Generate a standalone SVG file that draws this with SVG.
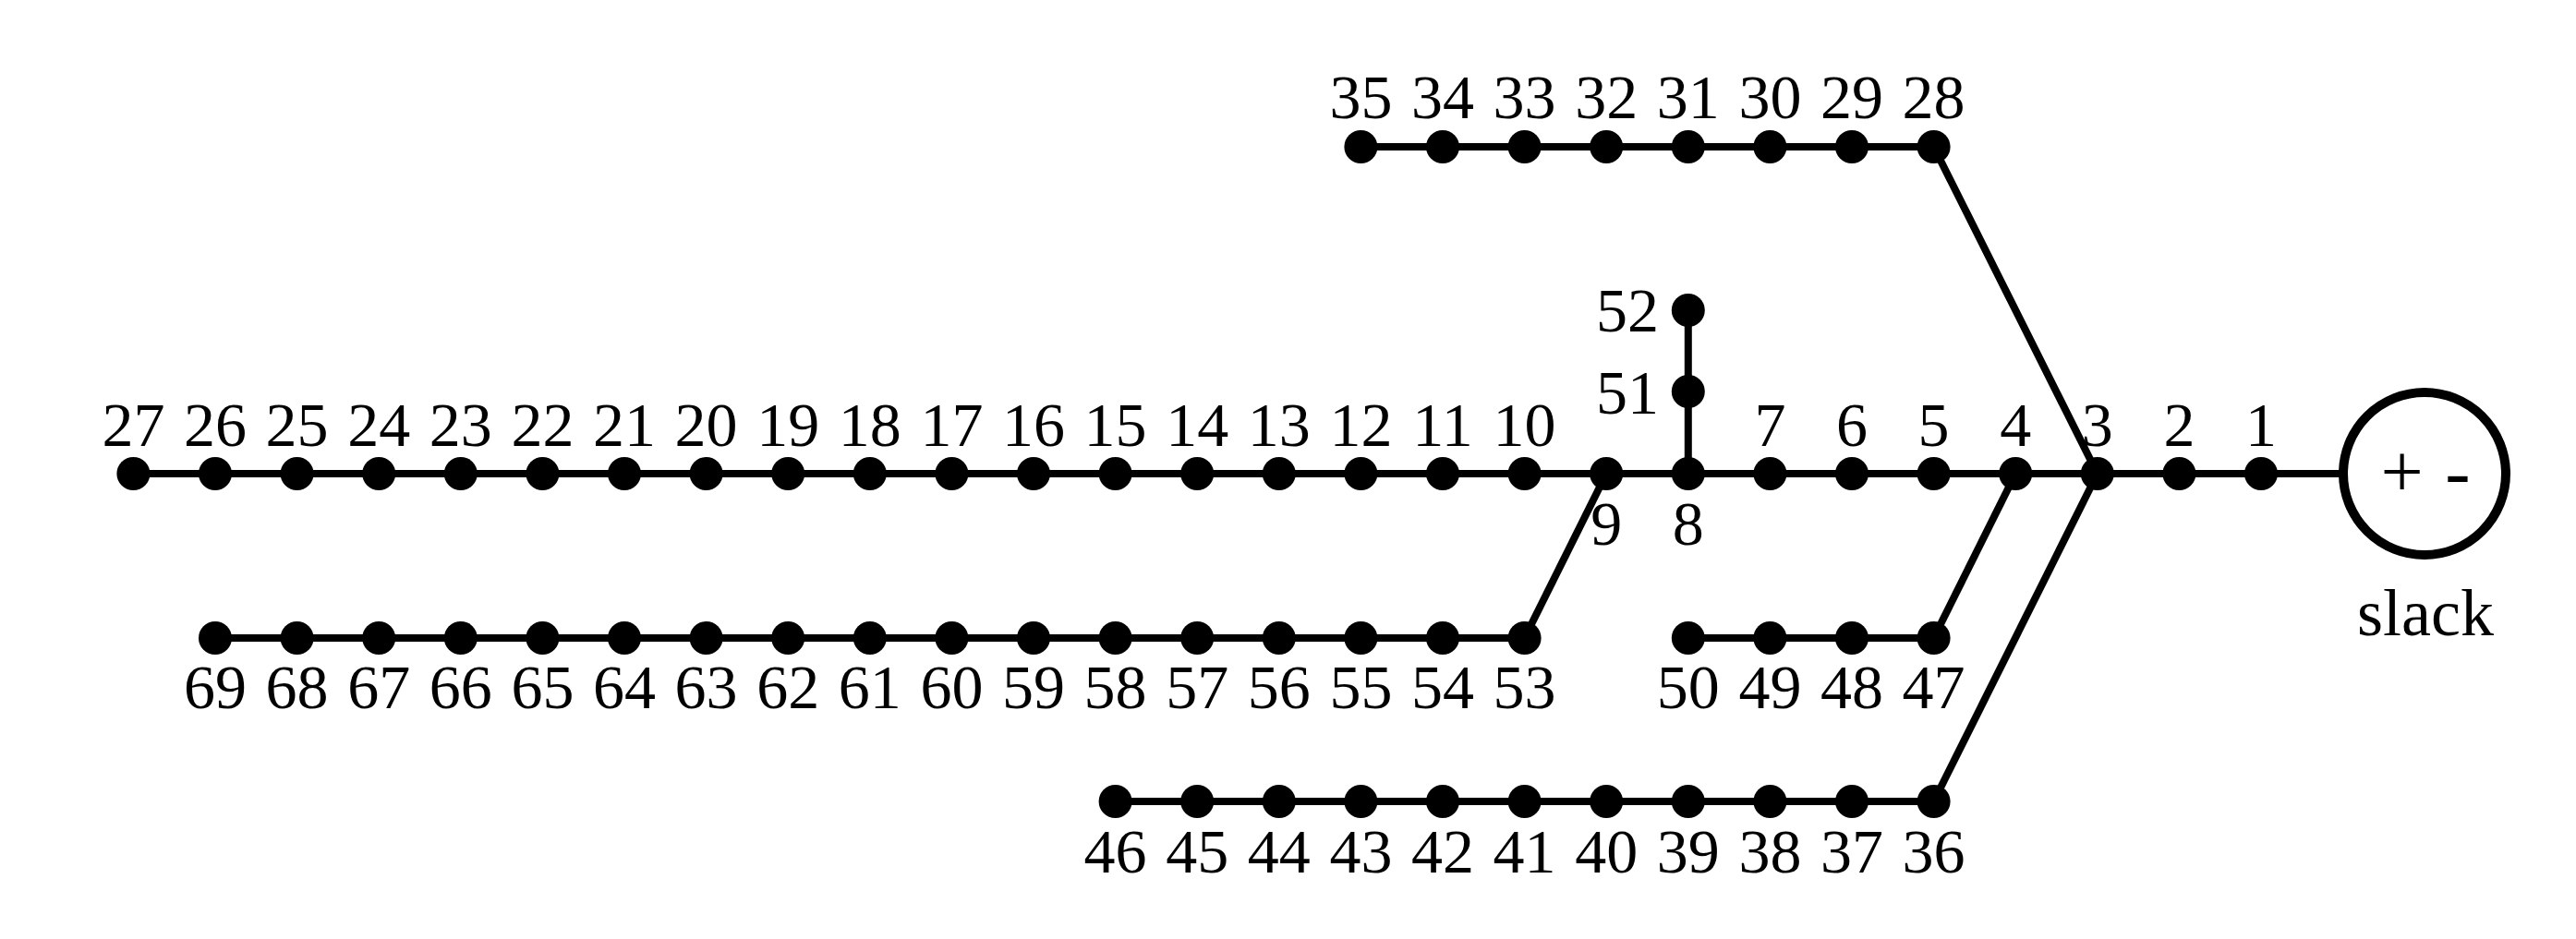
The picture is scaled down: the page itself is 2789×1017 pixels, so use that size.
<svg xmlns="http://www.w3.org/2000/svg" width="2789" height="1017" viewBox="0 0 2789 1017">
<style>
.e{stroke:#000;stroke-width:8;fill:none;stroke-linecap:butt}
.d{fill:#000}
text{font-family:"Liberation Serif","Times New Roman",serif;font-size:68px;fill:#000;text-anchor:middle}
.r{text-anchor:end}
</style>
<rect width="2789" height="1017" fill="#fff"/>
<g id="connectors" class="e">
<line x1="2537" y1="513" x2="2448" y2="513"/>
<line x1="2448" y1="513" x2="2359.4" y2="513"/>
<line x1="2359.4" y1="513" x2="2270.8" y2="513"/>
<line x1="2270.8" y1="513" x2="2182.2" y2="513"/>
<line x1="2182.2" y1="513" x2="2093.6" y2="513"/>
<line x1="2093.6" y1="513" x2="2005" y2="513"/>
<line x1="2005" y1="513" x2="1916.4" y2="513"/>
<line x1="1916.4" y1="513" x2="1827.8" y2="513"/>
<line x1="1827.8" y1="513" x2="1739.2" y2="513"/>
<line x1="1739.2" y1="513" x2="1650.6" y2="513"/>
<line x1="1650.6" y1="513" x2="1562" y2="513"/>
<line x1="1562" y1="513" x2="1473.4" y2="513"/>
<line x1="1473.4" y1="513" x2="1384.8" y2="513"/>
<line x1="1384.8" y1="513" x2="1296.2" y2="513"/>
<line x1="1296.2" y1="513" x2="1207.6" y2="513"/>
<line x1="1207.6" y1="513" x2="1119" y2="513"/>
<line x1="1119" y1="513" x2="1030.4" y2="513"/>
<line x1="1030.4" y1="513" x2="941.8" y2="513"/>
<line x1="941.8" y1="513" x2="853.2" y2="513"/>
<line x1="853.2" y1="513" x2="764.6" y2="513"/>
<line x1="764.6" y1="513" x2="676" y2="513"/>
<line x1="676" y1="513" x2="587.4" y2="513"/>
<line x1="587.4" y1="513" x2="498.8" y2="513"/>
<line x1="498.8" y1="513" x2="410.2" y2="513"/>
<line x1="410.2" y1="513" x2="321.6" y2="513"/>
<line x1="321.6" y1="513" x2="233" y2="513"/>
<line x1="233" y1="513" x2="144.4" y2="513"/>
<line x1="2270.8" y1="513" x2="2093.6" y2="159"/>
<line x1="2093.6" y1="159" x2="2005" y2="159"/>
<line x1="2005" y1="159" x2="1916.4" y2="159"/>
<line x1="1916.4" y1="159" x2="1827.8" y2="159"/>
<line x1="1827.8" y1="159" x2="1739.2" y2="159"/>
<line x1="1739.2" y1="159" x2="1650.6" y2="159"/>
<line x1="1650.6" y1="159" x2="1562" y2="159"/>
<line x1="1562" y1="159" x2="1473.4" y2="159"/>
<line x1="2270.8" y1="513" x2="2093.6" y2="868"/>
<line x1="2093.6" y1="868" x2="2005" y2="868"/>
<line x1="2005" y1="868" x2="1916.4" y2="868"/>
<line x1="1916.4" y1="868" x2="1827.8" y2="868"/>
<line x1="1827.8" y1="868" x2="1739.2" y2="868"/>
<line x1="1739.2" y1="868" x2="1650.6" y2="868"/>
<line x1="1650.6" y1="868" x2="1562" y2="868"/>
<line x1="1562" y1="868" x2="1473.4" y2="868"/>
<line x1="1473.4" y1="868" x2="1384.8" y2="868"/>
<line x1="1384.8" y1="868" x2="1296.2" y2="868"/>
<line x1="1296.2" y1="868" x2="1207.6" y2="868"/>
<line x1="2182.2" y1="513" x2="2093.6" y2="691"/>
<line x1="2093.6" y1="691" x2="2005" y2="691"/>
<line x1="2005" y1="691" x2="1916.4" y2="691"/>
<line x1="1916.4" y1="691" x2="1827.8" y2="691"/>
<line x1="1827.8" y1="513" x2="1827.8" y2="424"/>
<line x1="1827.8" y1="424" x2="1827.8" y2="336"/>
<line x1="1739.2" y1="513" x2="1650.6" y2="691"/>
<line x1="1650.6" y1="691" x2="1562" y2="691"/>
<line x1="1562" y1="691" x2="1473.4" y2="691"/>
<line x1="1473.4" y1="691" x2="1384.8" y2="691"/>
<line x1="1384.8" y1="691" x2="1296.2" y2="691"/>
<line x1="1296.2" y1="691" x2="1207.6" y2="691"/>
<line x1="1207.6" y1="691" x2="1119" y2="691"/>
<line x1="1119" y1="691" x2="1030.4" y2="691"/>
<line x1="1030.4" y1="691" x2="941.8" y2="691"/>
<line x1="941.8" y1="691" x2="853.2" y2="691"/>
<line x1="853.2" y1="691" x2="764.6" y2="691"/>
<line x1="764.6" y1="691" x2="676" y2="691"/>
<line x1="676" y1="691" x2="587.4" y2="691"/>
<line x1="587.4" y1="691" x2="498.8" y2="691"/>
<line x1="498.8" y1="691" x2="410.2" y2="691"/>
<line x1="410.2" y1="691" x2="321.6" y2="691"/>
<line x1="321.6" y1="691" x2="233" y2="691"/>
</g>
<g id="slack">
<circle cx="2625" cy="513" r="88" fill="#fff" stroke="#000" stroke-width="10"/>
<text x="2626" y="538" style="font-size:82px;word-spacing:3px">+ -</text>
<text x="2626" y="688" style="font-size:72px">slack</text>
</g>
<g id="n1"><circle class="d" cx="2448" cy="513" r="18"/><text x="2448" y="483">1</text></g>
<g id="n2"><circle class="d" cx="2359.4" cy="513" r="18"/><text x="2359.4" y="483">2</text></g>
<g id="n3"><circle class="d" cx="2270.8" cy="513" r="18"/><text x="2270.8" y="483">3</text></g>
<g id="n4"><circle class="d" cx="2182.2" cy="513" r="18"/><text x="2182.2" y="483">4</text></g>
<g id="n5"><circle class="d" cx="2093.6" cy="513" r="18"/><text x="2093.6" y="483">5</text></g>
<g id="n6"><circle class="d" cx="2005" cy="513" r="18"/><text x="2005" y="483">6</text></g>
<g id="n7"><circle class="d" cx="1916.4" cy="513" r="18"/><text x="1916.4" y="483">7</text></g>
<g id="n8"><circle class="d" cx="1827.8" cy="513" r="18"/><text x="1827.8" y="590">8</text></g>
<g id="n9"><circle class="d" cx="1739.2" cy="513" r="18"/><text x="1739.2" y="590">9</text></g>
<g id="n10"><circle class="d" cx="1650.6" cy="513" r="18"/><text x="1650.6" y="483">10</text></g>
<g id="n11"><circle class="d" cx="1562" cy="513" r="18"/><text x="1562" y="483">11</text></g>
<g id="n12"><circle class="d" cx="1473.4" cy="513" r="18"/><text x="1473.4" y="483">12</text></g>
<g id="n13"><circle class="d" cx="1384.8" cy="513" r="18"/><text x="1384.8" y="483">13</text></g>
<g id="n14"><circle class="d" cx="1296.2" cy="513" r="18"/><text x="1296.2" y="483">14</text></g>
<g id="n15"><circle class="d" cx="1207.6" cy="513" r="18"/><text x="1207.6" y="483">15</text></g>
<g id="n16"><circle class="d" cx="1119" cy="513" r="18"/><text x="1119" y="483">16</text></g>
<g id="n17"><circle class="d" cx="1030.4" cy="513" r="18"/><text x="1030.4" y="483">17</text></g>
<g id="n18"><circle class="d" cx="941.8" cy="513" r="18"/><text x="941.8" y="483">18</text></g>
<g id="n19"><circle class="d" cx="853.2" cy="513" r="18"/><text x="853.2" y="483">19</text></g>
<g id="n20"><circle class="d" cx="764.6" cy="513" r="18"/><text x="764.6" y="483">20</text></g>
<g id="n21"><circle class="d" cx="676" cy="513" r="18"/><text x="676" y="483">21</text></g>
<g id="n22"><circle class="d" cx="587.4" cy="513" r="18"/><text x="587.4" y="483">22</text></g>
<g id="n23"><circle class="d" cx="498.8" cy="513" r="18"/><text x="498.8" y="483">23</text></g>
<g id="n24"><circle class="d" cx="410.2" cy="513" r="18"/><text x="410.2" y="483">24</text></g>
<g id="n25"><circle class="d" cx="321.6" cy="513" r="18"/><text x="321.6" y="483">25</text></g>
<g id="n26"><circle class="d" cx="233" cy="513" r="18"/><text x="233" y="483">26</text></g>
<g id="n27"><circle class="d" cx="144.4" cy="513" r="18"/><text x="144.4" y="483">27</text></g>
<g id="n28"><circle class="d" cx="2093.6" cy="159" r="18"/><text x="2093.6" y="128">28</text></g>
<g id="n29"><circle class="d" cx="2005" cy="159" r="18"/><text x="2005" y="128">29</text></g>
<g id="n30"><circle class="d" cx="1916.4" cy="159" r="18"/><text x="1916.4" y="128">30</text></g>
<g id="n31"><circle class="d" cx="1827.8" cy="159" r="18"/><text x="1827.8" y="128">31</text></g>
<g id="n32"><circle class="d" cx="1739.2" cy="159" r="18"/><text x="1739.2" y="128">32</text></g>
<g id="n33"><circle class="d" cx="1650.6" cy="159" r="18"/><text x="1650.6" y="128">33</text></g>
<g id="n34"><circle class="d" cx="1562" cy="159" r="18"/><text x="1562" y="128">34</text></g>
<g id="n35"><circle class="d" cx="1473.4" cy="159" r="18"/><text x="1473.4" y="128">35</text></g>
<g id="n36"><circle class="d" cx="2093.6" cy="868" r="18"/><text x="2093.6" y="945">36</text></g>
<g id="n37"><circle class="d" cx="2005" cy="868" r="18"/><text x="2005" y="945">37</text></g>
<g id="n38"><circle class="d" cx="1916.4" cy="868" r="18"/><text x="1916.4" y="945">38</text></g>
<g id="n39"><circle class="d" cx="1827.8" cy="868" r="18"/><text x="1827.8" y="945">39</text></g>
<g id="n40"><circle class="d" cx="1739.2" cy="868" r="18"/><text x="1739.2" y="945">40</text></g>
<g id="n41"><circle class="d" cx="1650.6" cy="868" r="18"/><text x="1650.6" y="945">41</text></g>
<g id="n42"><circle class="d" cx="1562" cy="868" r="18"/><text x="1562" y="945">42</text></g>
<g id="n43"><circle class="d" cx="1473.4" cy="868" r="18"/><text x="1473.4" y="945">43</text></g>
<g id="n44"><circle class="d" cx="1384.8" cy="868" r="18"/><text x="1384.8" y="945">44</text></g>
<g id="n45"><circle class="d" cx="1296.2" cy="868" r="18"/><text x="1296.2" y="945">45</text></g>
<g id="n46"><circle class="d" cx="1207.6" cy="868" r="18"/><text x="1207.6" y="945">46</text></g>
<g id="n47"><circle class="d" cx="2093.6" cy="691" r="18"/><text x="2093.6" y="767">47</text></g>
<g id="n48"><circle class="d" cx="2005" cy="691" r="18"/><text x="2005" y="767">48</text></g>
<g id="n49"><circle class="d" cx="1916.4" cy="691" r="18"/><text x="1916.4" y="767">49</text></g>
<g id="n50"><circle class="d" cx="1827.8" cy="691" r="18"/><text x="1827.8" y="767">50</text></g>
<g id="n51"><circle class="d" cx="1827.8" cy="424" r="18"/><text class="r" x="1796" y="448">51</text></g>
<g id="n52"><circle class="d" cx="1827.8" cy="336" r="18"/><text class="r" x="1796" y="359">52</text></g>
<g id="n53"><circle class="d" cx="1650.6" cy="691" r="18"/><text x="1650.6" y="767">53</text></g>
<g id="n54"><circle class="d" cx="1562" cy="691" r="18"/><text x="1562" y="767">54</text></g>
<g id="n55"><circle class="d" cx="1473.4" cy="691" r="18"/><text x="1473.4" y="767">55</text></g>
<g id="n56"><circle class="d" cx="1384.8" cy="691" r="18"/><text x="1384.8" y="767">56</text></g>
<g id="n57"><circle class="d" cx="1296.2" cy="691" r="18"/><text x="1296.2" y="767">57</text></g>
<g id="n58"><circle class="d" cx="1207.6" cy="691" r="18"/><text x="1207.6" y="767">58</text></g>
<g id="n59"><circle class="d" cx="1119" cy="691" r="18"/><text x="1119" y="767">59</text></g>
<g id="n60"><circle class="d" cx="1030.4" cy="691" r="18"/><text x="1030.4" y="767">60</text></g>
<g id="n61"><circle class="d" cx="941.8" cy="691" r="18"/><text x="941.8" y="767">61</text></g>
<g id="n62"><circle class="d" cx="853.2" cy="691" r="18"/><text x="853.2" y="767">62</text></g>
<g id="n63"><circle class="d" cx="764.6" cy="691" r="18"/><text x="764.6" y="767">63</text></g>
<g id="n64"><circle class="d" cx="676" cy="691" r="18"/><text x="676" y="767">64</text></g>
<g id="n65"><circle class="d" cx="587.4" cy="691" r="18"/><text x="587.4" y="767">65</text></g>
<g id="n66"><circle class="d" cx="498.8" cy="691" r="18"/><text x="498.8" y="767">66</text></g>
<g id="n67"><circle class="d" cx="410.2" cy="691" r="18"/><text x="410.2" y="767">67</text></g>
<g id="n68"><circle class="d" cx="321.6" cy="691" r="18"/><text x="321.6" y="767">68</text></g>
<g id="n69"><circle class="d" cx="233" cy="691" r="18"/><text x="233" y="767">69</text></g>
</svg>
